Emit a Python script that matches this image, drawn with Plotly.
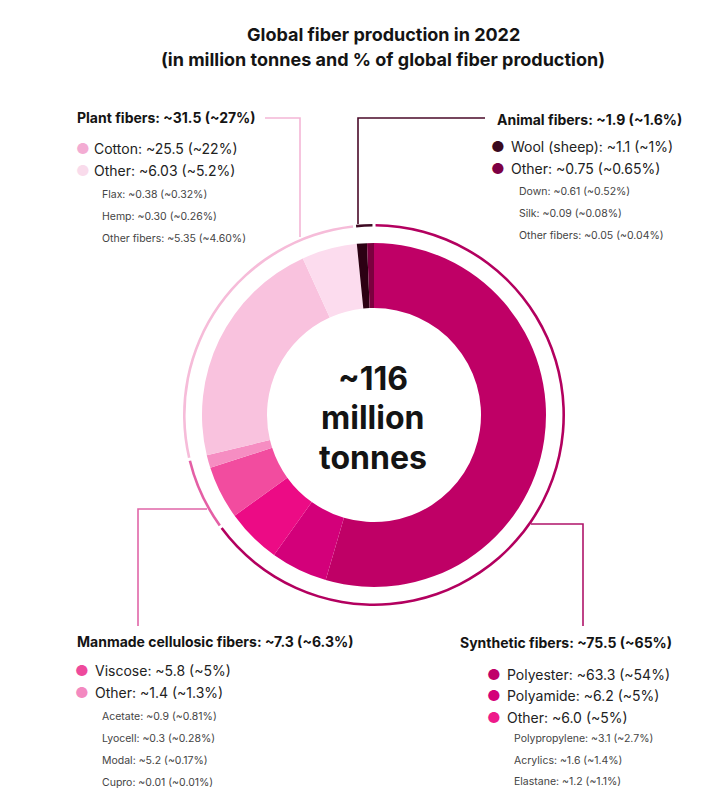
import plotly.graph_objects as go

W, H = 709, 791

# ---------------- data ----------------
slice_names = ["Polyester", "Polyamide", "Other synthetic", "Viscose", "Other manmade",
               "Cotton", "Other plant", "Wool (sheep)", "Other animal"]
slice_values = [63.3, 6.2, 6.0, 5.8, 1.4, 25.5, 6.03, 1.1, 0.75]
slice_colors = ["#bf0066", "#d3007a", "#ec0b85", "#f24c9f", "#f68dc2",
                "#f9c2de", "#fcdcee", "#2c0013", "#7c003f"]

group_names = ["Synthetic fibers", "Manmade cellulosic fibers", "Plant fibers", "Animal fibers"]
group_values = [75.5, 7.3, 31.5, 1.9]
group_colors = ["#b3005f", "#e45fa5", "#f6bcd9", "#3e0a22"]

total_label = ["~116", "million", "tonnes"]
title_lines = ["Global fiber production in 2022",
               "(in million tonnes and % of global fiber production)"]

plant_head = "Plant fibers: ~31.5 (~27%)"
plant_items = ["Cotton: ~25.5 (~22%)", "Other: ~6.03 (~5.2%)"]
plant_item_colors = ["#f3acd3", "#f9dbeb"]
plant_sub = ["Flax: ~0.38 (~0.32%)", "Hemp: ~0.30 (~0.26%)", "Other fibers: ~5.35 (~4.60%)"]

animal_head = "Animal fibers: ~1.9 (~1.6%)"
animal_items = ["Wool (sheep): ~1.1 (~1%)", "Other: ~0.75 (~0.65%)"]
animal_item_colors = ["#3a0a1f", "#7d0044"]
animal_sub = ["Down: ~0.61 (~0.52%)", "Silk: ~0.09 (~0.08%)", "Other fibers: ~0.05 (~0.04%)"]

mm_head = "Manmade cellulosic fibers: ~7.3 (~6.3%)"
mm_items = ["Viscose: ~5.8 (~5%)", "Other: ~1.4 (~1.3%)"]
mm_item_colors = ["#ee4a9c", "#f389c0"]
mm_sub = ["Acetate: ~0.9 (~0.81%)", "Lyocell: ~0.3 (~0.28%)",
          "Modal: ~5.2 (~0.17%)", "Cupro: ~0.01 (~0.01%)"]

syn_head = "Synthetic fibers: ~75.5 (~65%)"
syn_items = ["Polyester: ~63.3 (~54%)", "Polyamide: ~6.2 (~5%)", "Other: ~6.0 (~5%)"]
syn_item_colors = ["#c0006b", "#d4007a", "#ee1a8a"]
syn_sub = ["Polypropylene: ~3.1 (~2.7%)", "Acrylics: ~1.6 (~1.4%)", "Elastane: ~1.2 (~1.1%)"]

# ---------------- layout helpers ----------------
FONT = "Inter, Roboto, 'DejaVu Sans', sans-serif"
CX, CY = 374, 415          # donut centre (px)
R_IN, HOLE_IN = 172, 107   # inner donut radii
R_OUT, RING_W = 191, 2.6   # outer ring


def px(x):
    return x / W


def py(y):
    return 1 - y / H


def domain(r):
    return dict(x=[px(CX - r), px(CX + r)], y=[py(CY + r), py(CY - r)])


# outer ring with small gaps centred on group boundaries
gap = 0.3
ring_vals, ring_cols = [gap / 2], ["rgba(0,0,0,0)"]
for v, c in zip(group_values, group_colors):
    ring_vals += [v - gap, gap]
    ring_cols += [c, "rgba(0,0,0,0)"]
ring_vals[-1] = gap / 2

fig = go.Figure()
fig.add_trace(go.Pie(
    values=slice_values, labels=slice_names, sort=False, direction="clockwise",
    rotation=0, hole=HOLE_IN / R_IN, domain=domain(R_IN),
    marker=dict(colors=slice_colors, line=dict(width=0)),
    textinfo="none", hoverinfo="label+value", showlegend=False))
fig.add_trace(go.Pie(
    values=ring_vals, sort=False, direction="clockwise", rotation=0,
    hole=(R_OUT - RING_W) / R_OUT, domain=domain(R_OUT),
    marker=dict(colors=ring_cols, line=dict(width=0)),
    textinfo="none", hoverinfo="skip", showlegend=False))

ann = []


def text(x, y, s, size, color="#141414", bold=False, anchor="left"):
    if bold:
        s = "<b>" + s + "</b>"
    ann.append(dict(x=px(x), y=py(y), xref="paper", yref="paper", text=s,
                    showarrow=False, xanchor=anchor, yanchor="middle",
                    font=dict(family=FONT, size=size, color=color)))


# title
text(383, 35, title_lines[0], 18, bold=True, anchor="center")
text(383, 60, title_lines[1], 18, bold=True, anchor="center")

# centre label
for s, y in zip(total_label, [378, 418, 457]):
    text(CX - 1, y, s, 32, bold=True, anchor="center")


def block(hx, hy, head, items, colors, dot_x, item_x, item_ys, sub, sub_x, sub_ys):
    text(hx, hy, head, 14, bold=True)
    for s, c, y in zip(items, colors, item_ys):
        text(dot_x, y, "\u25CF", 15, color=c, anchor="center")
        text(item_x, y, s, 14, color="#222")
    for s, y in zip(sub, sub_ys):
        text(sub_x, y, s, 10.5, color="#444")


block(75, 118, plant_head, plant_items, plant_item_colors, 83, 92, [149, 170],
      plant_sub, 100, [194, 216, 238])
block(495, 119, animal_head, animal_items, animal_item_colors, 498, 509, [146, 168],
      animal_sub, 517, [191, 213, 235])
block(75, 641, mm_head, mm_items, mm_item_colors, 82, 93, [670, 692],
      mm_sub, 100, [716, 738, 760, 782])
block(458, 642, syn_head, syn_items, syn_item_colors, 494, 505, [674, 695, 717],
      syn_sub, 512, [738, 760, 781])

# leader lines
shapes = []


def path(points, color):
    d = "M " + " L ".join(f"{px(x)},{py(y)}" for x, y in points)
    shapes.append(dict(type="path", path=d, xref="paper", yref="paper",
                       line=dict(color=color, width=1.6), fillcolor="rgba(0,0,0,0)"))


path([(265, 118), (300, 118), (300, 237)], "#f4b6d6")
path([(485, 118), (358, 118), (358, 224)], "#4a0a28")
path([(207, 509), (138, 509), (138, 626)], "#e066a8")
path([(531, 524), (583, 524), (583, 626)], "#b0146a")

fig.update_layout(width=W, height=H, margin=dict(l=0, r=0, t=0, b=0),
                  paper_bgcolor="white", plot_bgcolor="white",
                  annotations=ann, shapes=shapes)

fig.write_html("out.html", config={"displayModeBar": False},
               post_script="document.body.style.margin='0px';"
                           "document.body.style.overflow='hidden';")
